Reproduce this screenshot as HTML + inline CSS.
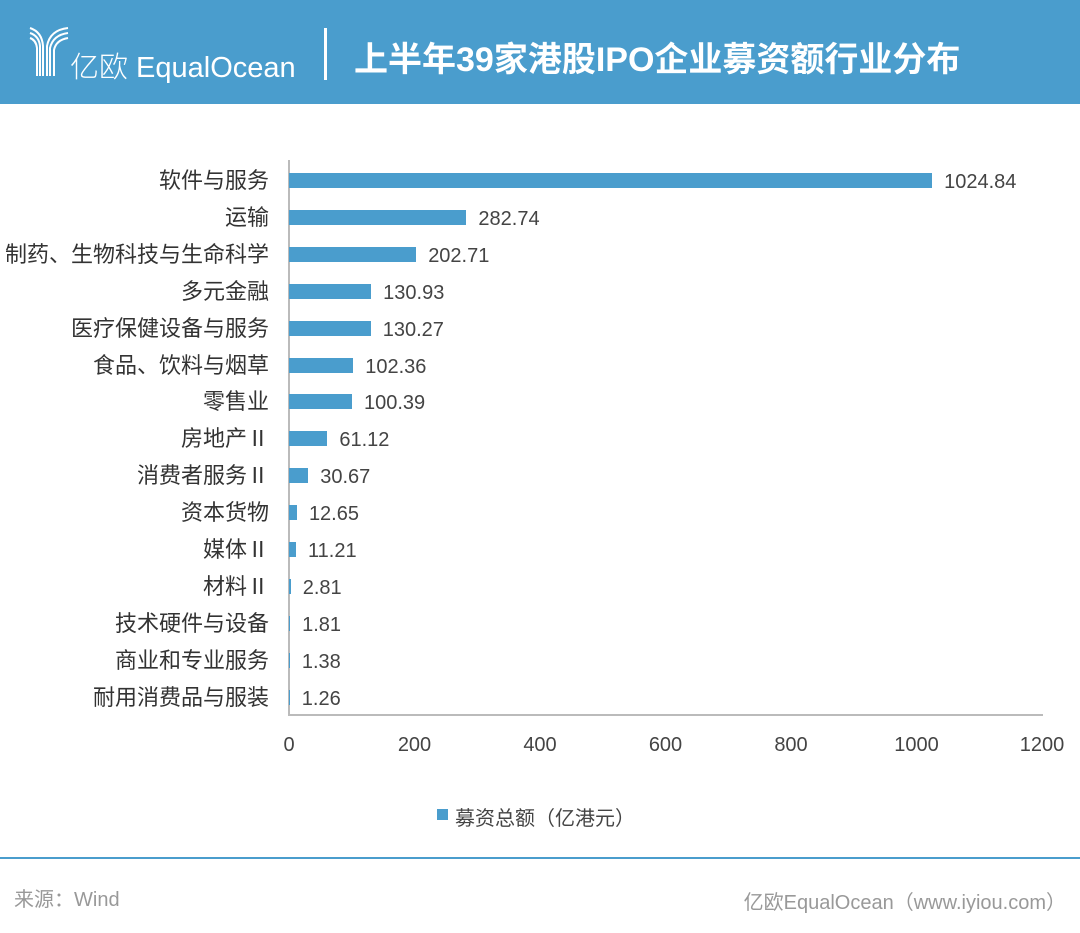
<!DOCTYPE html>
<html><head><meta charset="utf-8"><style>
body{margin:0;width:1080px;height:933px;background:#fff;font-family:"Liberation Sans","Noto Sans CJK SC",sans-serif;position:relative;overflow:hidden}
.hdr{position:absolute;left:0;top:0;width:1080px;height:104px;background:#4a9dcd}
.t{position:absolute;white-space:nowrap}
.lab{position:absolute;right:811px;font-size:22px;color:#333;line-height:22px;white-space:nowrap}
.val{position:absolute;font-size:20px;color:#444;line-height:22px}
.bar{position:absolute;left:289px;height:15px;background:#4a9dcd}
.tick{position:absolute;top:734px;font-size:20px;color:#444;transform:translateX(-50%)}
</style></head><body>
<div class="hdr">
<svg style="position:absolute;left:28px;top:26px" width="42" height="52" viewBox="0 0 42 52" fill="none" stroke="#fff" stroke-width="2">
<path d="M2 2 Q14 6 15 20 V50"/><path d="M2 7 Q11 10 12 20 V50"/><path d="M2 12 Q8 14 9 22 V50"/>
<path d="M40 2 Q22 4 19 20 V50"/><path d="M40 7 Q25 9 22 22 V50"/><path d="M40 12 Q28 14 26 24 V50"/>
</svg>
<div class="t" style="left:70px;top:44px;font-size:29px;color:#fff;font-weight:300">亿欧 EqualOcean</div>
<div style="position:absolute;left:324px;top:28px;width:3px;height:52px;background:#fff"></div>
<div class="t" style="left:354px;top:32px;font-size:34px;color:#fff;font-weight:bold">上半年39家港股IPO企业募资额行业分布</div>
</div>
<div style="position:absolute;left:288px;top:160px;width:2px;height:556px;background:#bbb"></div>
<div style="position:absolute;left:288px;top:714px;width:755px;height:2px;background:#bbb"></div>
<div id="c"></div>
<script>
var d=[["软件与服务",1024.84],["运输",282.74],["制药、生物科技与生命科学",202.71],["多元金融",130.93],["医疗保健设备与服务",130.27],["食品、饮料与烟草",102.36],["零售业",100.39],["房地产Ⅱ",61.12],["消费者服务Ⅱ",30.67],["资本货物",12.65],["媒体Ⅱ",11.21],["材料Ⅱ",2.81],["技术硬件与设备",1.81],["商业和专业服务",1.38],["耐用消费品与服装",1.26]];
var h="",k=0.6275;
d.forEach(function(r,i){var y=180+i*36.9,w=r[1]*k;
h+='<div class="lab" style="top:'+(y-10)+'px">'+r[0]+'</div>';
h+='<div class="bar" style="top:'+(y-7)+'px;width:'+w+'px"></div>';
h+='<div class="val" style="left:'+(289+w+12)+'px;top:'+(y-9)+'px">'+r[1]+'</div>';});
for(var v=0;v<=1200;v+=200)h+='<div class="tick t" style="left:'+(289+v*k)+'px">'+v+'</div>';
document.getElementById("c").innerHTML=h;
</script>
<div style="position:absolute;left:437px;top:809px;width:11px;height:11px;background:#4a9dcd"></div>
<div class="t" style="left:455px;top:802px;font-size:20px;color:#444">募资总额（亿港元）</div>
<div style="position:absolute;left:0;top:857px;width:1080px;height:2px;background:#4a9dcd"></div>
<div class="t" style="left:14px;top:883px;font-size:20px;color:#999">来源：Wind</div>
<div class="t" style="right:14px;top:886px;font-size:20px;color:#999">亿欧EqualOcean（www.iyiou.com）</div>
</body></html>
